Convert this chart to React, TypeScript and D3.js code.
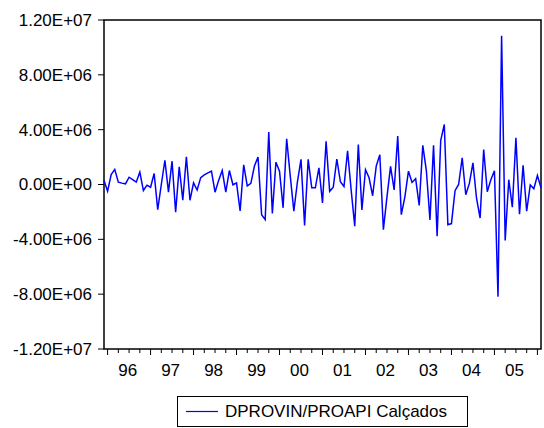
import { useEffect, useRef } from "react";
import * as d3 from "d3";

// monthly series, first observation 1995M12
const startYear = 1995;
const startMonth = 12;

const values = [
  0.29e6, -0.49e6, 0.73e6, 1.1e6, 0.17e6, 0.1e6, 0.05e6, 0.53e6, 0.36e6, 0.17e6,
  0.9e6, -0.44e6, -0.05e6, -0.2e6, 0.8e6, -1.83e6, 0.0e6, 1.77e6, -0.56e6, 1.7e6,
  -2.02e6, 1.29e6, -1.15e6, 2.02e6, -1.15e6, 0.12e6, -0.4e6, 0.5e6, 0.7e6, 0.85e6,
  0.97e6, -0.56e6, 0.3e6, 1.02e6, -0.56e6, 1.02e6, -0.02e6, 0.12e6, -1.92e6, 1.44e6,
  -0.1e6, 0.08e6, 1.35e6, 2.0e6, -2.2e6, -2.56e6, 3.82e6, -2.12e6, 1.63e6, 0.97e6,
  -1.7e6, 3.34e6, 0.61e6, -1.95e6, 0.2e6, 1.83e6, -2.99e6, 1.83e6, -0.24e6, -0.24e6,
  1.22e6, -1.34e6, 3.16e6, -0.5e6, -0.2e6, 1.85e6, 0.2e6, -0.15e6, 2.45e6, -0.4e6,
  -3.04e6, 2.92e6, -1.85e6, 1.08e6, 0.49e6, -0.82e6, 1.34e6, 2.17e6, -3.29e6, -0.9e6,
  1.32e6, -0.4e6, 3.53e6, -2.2e6, -0.9e6, 0.97e6, 0.15e6, 0.42e6, -1.53e6, 2.86e6,
  1.0e6, -2.58e6, 2.86e6, -3.77e6, 3.2e6, 4.38e6, -2.93e6, -2.85e6, -0.45e6, 0.0e6,
  1.95e6, -0.75e6, 0.08e6, 1.58e6, -1.0e6, -2.45e6, 2.55e6, -0.53e6, 0.35e6, 1.0e6,
  -8.18e6, 10.85e6, -4.08e6, 0.35e6, -1.66e6, 3.4e6, -2.17e6, 1.4e6, -1.95e6, -0.03e6,
  -0.31e6, 0.66e6, -0.24e6,
];

const yTicks = [1.2e7, 8e6, 4e6, 0, -4e6, -8e6, -1.2e7];
const yTickLabels = ["1.20E+07", "8.00E+06", "4.00E+06", "0.00E+00", "-4.00E+06", "-8.00E+06", "-1.20E+07"];
const yearLabels = ["96", "97", "98", "99", "00", "01", "02", "03", "04", "05"];
const seriesName = "DPROVIN/PROAPI Calçados";

const FONT = "'Liberation Sans', Arial, sans-serif";

export default function App() {
  const svgRef = useRef<SVGSVGElement | null>(null);

  useEffect(() => {
    const svgEl = svgRef.current;
    if (!svgEl) return;

    const width = 544;
    const height = 428;
    const plot = { left: 104, right: 541, top: 20, bottom: 349 };

    const svg = d3.select(svgEl);
    svg.selectAll("*").remove();
    svg.attr("width", width).attr("height", height);

    const x = d3.scaleLinear().domain([0, values.length - 1]).range([plot.left, plot.right]);
    const y = d3.scaleLinear().domain([-1.2e7, 1.2e7]).range([plot.bottom, plot.top]);

    // frame
    svg.append("rect")
      .attr("x", plot.left)
      .attr("y", plot.top)
      .attr("width", plot.right - plot.left)
      .attr("height", plot.bottom - plot.top)
      .attr("fill", "none")
      .attr("stroke", "#000")
      .attr("stroke-width", 1.5);

    // y axis ticks + labels
    yTicks.forEach((t, i) => {
      svg.append("line")
        .attr("x1", plot.left - 6)
        .attr("x2", plot.left)
        .attr("y1", y(t))
        .attr("y2", y(t))
        .attr("stroke", "#000")
        .attr("stroke-width", 1);
      svg.append("text")
        .attr("x", plot.left - 12)
        .attr("y", y(t))
        .attr("dy", "0.35em")
        .attr("text-anchor", "end")
        .attr("font-family", FONT)
        .attr("font-size", 17)
        .attr("fill", "#000")
        .text(yTickLabels[i]);
    });

    // x axis: quarterly ticks, longer at year start
    values.forEach((_, i) => {
      const m = (startMonth - 1 + i) % 12;
      if (m % 3 !== 0) return;
      const major = m === 0;
      svg.append("line")
        .attr("x1", x(i))
        .attr("x2", x(i))
        .attr("y1", plot.bottom)
        .attr("y2", plot.bottom + (major ? 6 : 4))
        .attr("stroke", "#000")
        .attr("stroke-width", 1);
      if (major) {
        const yr = startYear + Math.floor((startMonth - 1 + i) / 12);
        const label = yearLabels[yr - 1996];
        if (label) {
          svg.append("text")
            .attr("x", x(i + 5.6))
            .attr("y", 376)
            .attr("text-anchor", "middle")
            .attr("font-family", FONT)
            .attr("font-size", 17)
            .attr("fill", "#000")
            .text(label);
        }
      }
    });

    const line = d3
      .line<number>()
      .x((_, i) => x(i))
      .y((v) => y(v));

    svg.append("path")
      .datum(values)
      .attr("fill", "none")
      .attr("stroke", "#0000ff")
      .attr("stroke-width", 1.5)
      .attr("d", line as any);

    // legend
    const lg = svg.append("g").attr("transform", "translate(177,396)");
    lg.append("rect")
      .attr("x", 0.5)
      .attr("y", 0.5)
      .attr("width", 290)
      .attr("height", 30)
      .attr("fill", "#fff")
      .attr("stroke", "#000")
      .attr("stroke-width", 1);
    lg.append("line")
      .attr("x1", 9)
      .attr("x2", 41)
      .attr("y1", 15.5)
      .attr("y2", 15.5)
      .attr("stroke", "#0000ff")
      .attr("stroke-width", 1.2);
    lg.append("text")
      .attr("x", 48)
      .attr("y", 15.5)
      .attr("dy", "0.35em")
      .attr("font-family", FONT)
      .attr("font-size", 17)
      .attr("fill", "#000")
      .text(seriesName);
  }, []);

  return (
    <svg
      ref={svgRef}
      style={{ position: "absolute", left: 0, top: 0, background: "#fff" }}
      role="img"
      aria-label="DPROVIN/PROAPI Calçados"
    />
  );
}
